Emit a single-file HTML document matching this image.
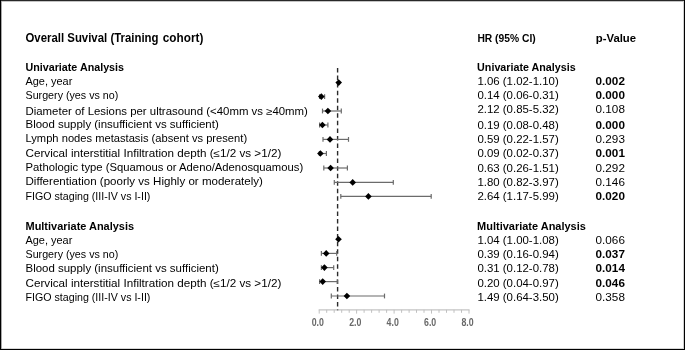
<!DOCTYPE html>
<html><head><meta charset="utf-8"><style>
html,body{margin:0;padding:0;background:#fff;}
body{width:685px;height:350px;overflow:hidden;}
svg{display:block;}
text{font-family:"Liberation Sans",Arial,sans-serif;font-size:10.2px;fill:#000;}
text.b{font-weight:bold;fill:#000;}
text.title{font-size:12px;}
text.tick{fill:#686868;font-size:10.0px;font-weight:bold;}
.ci{stroke:#6b6b6b;stroke-width:1.2;}
.ax{stroke:#c0c0c0;stroke-width:1;}
</style></head><body>
<svg width="685" height="350" viewBox="0 0 685 350">
<rect x="0" y="0" width="685" height="350" fill="#fff"/>
<line x1="318.7" y1="309.9" x2="469.5" y2="309.9" class="ax" style="stroke-width:1.1;stroke:#c4c4c4"/>
<line x1="319.2" y1="309.8" x2="319.2" y2="313.6" class="ax"/>
<line x1="326.7" y1="309.8" x2="326.7" y2="312.8" class="ax"/>
<line x1="334.2" y1="309.8" x2="334.2" y2="312.8" class="ax"/>
<line x1="341.7" y1="309.8" x2="341.7" y2="312.8" class="ax"/>
<line x1="349.2" y1="309.8" x2="349.2" y2="312.8" class="ax"/>
<line x1="356.6" y1="309.8" x2="356.6" y2="313.6" class="ax"/>
<line x1="364.1" y1="309.8" x2="364.1" y2="312.8" class="ax"/>
<line x1="371.6" y1="309.8" x2="371.6" y2="312.8" class="ax"/>
<line x1="379.1" y1="309.8" x2="379.1" y2="312.8" class="ax"/>
<line x1="386.6" y1="309.8" x2="386.6" y2="312.8" class="ax"/>
<line x1="394.1" y1="309.8" x2="394.1" y2="313.6" class="ax"/>
<line x1="401.6" y1="309.8" x2="401.6" y2="312.8" class="ax"/>
<line x1="409.1" y1="309.8" x2="409.1" y2="312.8" class="ax"/>
<line x1="416.5" y1="309.8" x2="416.5" y2="312.8" class="ax"/>
<line x1="424.0" y1="309.8" x2="424.0" y2="312.8" class="ax"/>
<line x1="431.5" y1="309.8" x2="431.5" y2="313.6" class="ax"/>
<line x1="439.0" y1="309.8" x2="439.0" y2="312.8" class="ax"/>
<line x1="446.5" y1="309.8" x2="446.5" y2="312.8" class="ax"/>
<line x1="454.0" y1="309.8" x2="454.0" y2="312.8" class="ax"/>
<line x1="461.5" y1="309.8" x2="461.5" y2="312.8" class="ax"/>
<line x1="469.0" y1="309.8" x2="469.0" y2="313.6" class="ax"/>
<text x="311.70" y="326" textLength="12.2" lengthAdjust="spacingAndGlyphs" class="tick">0.0</text>
<text x="349.14" y="326" textLength="12.2" lengthAdjust="spacingAndGlyphs" class="tick">2.0</text>
<text x="386.58" y="326" textLength="12.2" lengthAdjust="spacingAndGlyphs" class="tick">4.0</text>
<text x="424.02" y="326" textLength="12.2" lengthAdjust="spacingAndGlyphs" class="tick">6.0</text>
<text x="461.46" y="326" textLength="12.2" lengthAdjust="spacingAndGlyphs" class="tick">8.0</text>
<line x1="337.6" y1="68.0" x2="337.6" y2="310.3" stroke="#2a2a2a" stroke-width="1.4" stroke-dasharray="4.5 3.05"/>
<polygon points="335.4,82.6 338.7,79.3 342.0,82.6 338.7,85.9" fill="#000"/>
<line x1="319.6" y1="96.6" x2="324.6" y2="96.6" class="ci"/>
<line x1="319.6" y1="94.2" x2="319.6" y2="99.0" class="ci"/>
<line x1="324.6" y1="94.2" x2="324.6" y2="99.0" class="ci"/>
<polygon points="318.0,96.6 321.3,93.3 324.6,96.6 321.3,99.9" fill="#000"/>
<line x1="322.5" y1="111.0" x2="341.3" y2="111.0" class="ci"/>
<line x1="322.5" y1="108.6" x2="322.5" y2="113.4" class="ci"/>
<line x1="341.3" y1="108.6" x2="341.3" y2="113.4" class="ci"/>
<polygon points="324.6,111.0 327.9,107.7 331.2,111.0 327.9,114.3" fill="#000"/>
<line x1="319.6" y1="125.0" x2="327.9" y2="125.0" class="ci"/>
<line x1="319.6" y1="122.6" x2="319.6" y2="127.4" class="ci"/>
<line x1="327.9" y1="122.6" x2="327.9" y2="127.4" class="ci"/>
<polygon points="319.1,125.0 322.4,121.7 325.7,125.0 322.4,128.3" fill="#000"/>
<line x1="323.0" y1="139.4" x2="348.5" y2="139.4" class="ci"/>
<line x1="323.0" y1="137.0" x2="323.0" y2="141.8" class="ci"/>
<line x1="348.5" y1="137.0" x2="348.5" y2="141.8" class="ci"/>
<polygon points="326.7,139.4 330.0,136.1 333.3,139.4 330.0,142.7" fill="#000"/>
<line x1="319.4" y1="153.5" x2="326.4" y2="153.5" class="ci"/>
<line x1="319.4" y1="151.1" x2="319.4" y2="155.9" class="ci"/>
<line x1="326.4" y1="151.1" x2="326.4" y2="155.9" class="ci"/>
<polygon points="317.1,153.5 320.4,150.2 323.7,153.5 320.4,156.8" fill="#000"/>
<line x1="323.8" y1="168.0" x2="347.4" y2="168.0" class="ci"/>
<line x1="323.8" y1="165.6" x2="323.8" y2="170.4" class="ci"/>
<line x1="347.4" y1="165.6" x2="347.4" y2="170.4" class="ci"/>
<polygon points="327.3,168.0 330.6,164.7 333.9,168.0 330.6,171.3" fill="#000"/>
<line x1="334.3" y1="182.4" x2="393.3" y2="182.4" class="ci"/>
<line x1="334.3" y1="180.0" x2="334.3" y2="184.8" class="ci"/>
<line x1="393.3" y1="180.0" x2="393.3" y2="184.8" class="ci"/>
<polygon points="349.4,182.4 352.7,179.1 356.0,182.4 352.7,185.7" fill="#000"/>
<line x1="340.8" y1="196.4" x2="431.2" y2="196.4" class="ci"/>
<line x1="340.8" y1="194.0" x2="340.8" y2="198.8" class="ci"/>
<line x1="431.2" y1="194.0" x2="431.2" y2="198.8" class="ci"/>
<polygon points="365.1,196.4 368.4,193.1 371.7,196.4 368.4,199.7" fill="#000"/>
<polygon points="335.2,239.3 338.5,236.0 341.8,239.3 338.5,242.6" fill="#000"/>
<line x1="321.4" y1="253.4" x2="336.7" y2="253.4" class="ci"/>
<line x1="321.4" y1="251.0" x2="321.4" y2="255.8" class="ci"/>
<line x1="336.7" y1="251.0" x2="336.7" y2="255.8" class="ci"/>
<polygon points="322.9,253.4 326.2,250.1 329.5,253.4 326.2,256.7" fill="#000"/>
<line x1="321.4" y1="267.6" x2="333.7" y2="267.6" class="ci"/>
<line x1="321.4" y1="265.2" x2="321.4" y2="270.0" class="ci"/>
<line x1="333.7" y1="265.2" x2="333.7" y2="270.0" class="ci"/>
<polygon points="321.1,267.6 324.4,264.3 327.7,267.6 324.4,270.9" fill="#000"/>
<line x1="319.6" y1="281.6" x2="337.3" y2="281.6" class="ci"/>
<line x1="319.6" y1="279.2" x2="319.6" y2="284.0" class="ci"/>
<line x1="337.3" y1="279.2" x2="337.3" y2="284.0" class="ci"/>
<polygon points="319.4,281.6 322.7,278.3 326.0,281.6 322.7,284.9" fill="#000"/>
<line x1="331.3" y1="296.0" x2="384.5" y2="296.0" class="ci"/>
<line x1="331.3" y1="293.6" x2="331.3" y2="298.4" class="ci"/>
<line x1="384.5" y1="293.6" x2="384.5" y2="298.4" class="ci"/>
<polygon points="343.6,296.0 346.9,292.7 350.2,296.0 346.9,299.3" fill="#000"/>
<text x="25.50" y="42.00" textLength="133.00" lengthAdjust="spacingAndGlyphs" class="b title">Overall Suvival (Training</text>
<text x="162.80" y="42.00" textLength="40.50" lengthAdjust="spacingAndGlyphs" class="b title">cohort)</text>
<text x="477.40" y="42.00" textLength="58.30" lengthAdjust="spacingAndGlyphs" class="b">HR (95% CI)</text>
<text x="595.80" y="42.00" textLength="40.30" lengthAdjust="spacingAndGlyphs" class="b">p-Value</text>
<text x="25.50" y="71.00" textLength="98.50" lengthAdjust="spacingAndGlyphs" class="b">Univariate Analysis</text>
<text x="477.10" y="71.00" textLength="98.60" lengthAdjust="spacingAndGlyphs" class="b">Univariate Analysis</text>
<text x="25.50" y="230.00" textLength="108.60" lengthAdjust="spacingAndGlyphs" class="b">Multivariate Analysis</text>
<text x="477.10" y="230.00" textLength="108.80" lengthAdjust="spacingAndGlyphs" class="b">Multivariate Analysis</text>
<text x="25.50" y="85.00" textLength="46.80" lengthAdjust="spacingAndGlyphs">Age, year</text>
<text x="477.40" y="85.00" textLength="81.30" lengthAdjust="spacingAndGlyphs">1.06 (1.02-1.10)</text>
<text x="595.60" y="85.00" textLength="29.30" lengthAdjust="spacingAndGlyphs" class="b">0.002</text>
<text x="25.50" y="99.00" textLength="92.80" lengthAdjust="spacingAndGlyphs">Surgery (yes vs no)</text>
<text x="477.40" y="99.00" textLength="81.30" lengthAdjust="spacingAndGlyphs">0.14 (0.06-0.31)</text>
<text x="595.60" y="99.00" textLength="29.30" lengthAdjust="spacingAndGlyphs" class="b">0.000</text>
<text x="25.50" y="115.00" textLength="282.40" lengthAdjust="spacingAndGlyphs">Diameter of Lesions per ultrasound (&lt;40mm vs ≥40mm)</text>
<text x="477.40" y="113.00" textLength="81.30" lengthAdjust="spacingAndGlyphs">2.12 (0.85-5.32)</text>
<text x="595.60" y="113.00" textLength="29.30" lengthAdjust="spacingAndGlyphs">0.108</text>
<text x="25.50" y="128.00" textLength="193.20" lengthAdjust="spacingAndGlyphs">Blood supply (insufficient vs sufficient)</text>
<text x="477.40" y="129.00" textLength="81.30" lengthAdjust="spacingAndGlyphs">0.19 (0.08-0.48)</text>
<text x="595.60" y="129.00" textLength="29.30" lengthAdjust="spacingAndGlyphs" class="b">0.000</text>
<text x="25.50" y="142.00" textLength="221.60" lengthAdjust="spacingAndGlyphs">Lymph nodes metastasis (absent vs present)</text>
<text x="477.40" y="143.00" textLength="81.30" lengthAdjust="spacingAndGlyphs">0.59 (0.22-1.57)</text>
<text x="595.60" y="143.00" textLength="29.30" lengthAdjust="spacingAndGlyphs">0.293</text>
<text x="25.50" y="157.00" textLength="255.80" lengthAdjust="spacingAndGlyphs">Cervical interstitial Infiltration depth (≤1/2 vs &gt;1/2)</text>
<text x="477.40" y="157.00" textLength="81.30" lengthAdjust="spacingAndGlyphs">0.09 (0.02-0.37)</text>
<text x="595.60" y="157.00" textLength="29.30" lengthAdjust="spacingAndGlyphs" class="b">0.001</text>
<text x="25.50" y="171.00" textLength="277.70" lengthAdjust="spacingAndGlyphs">Pathologic type (Squamous or Adeno/Adenosquamous)</text>
<text x="477.40" y="172.00" textLength="81.30" lengthAdjust="spacingAndGlyphs">0.63 (0.26-1.51)</text>
<text x="595.60" y="172.00" textLength="29.30" lengthAdjust="spacingAndGlyphs">0.292</text>
<text x="25.50" y="185.00" textLength="237.40" lengthAdjust="spacingAndGlyphs">Differentiation (poorly vs Highly or moderately)</text>
<text x="477.40" y="186.00" textLength="81.30" lengthAdjust="spacingAndGlyphs">1.80 (0.82-3.97)</text>
<text x="595.60" y="186.00" textLength="29.30" lengthAdjust="spacingAndGlyphs">0.146</text>
<text x="25.50" y="200.00" textLength="124.90" lengthAdjust="spacingAndGlyphs">FIGO staging (III-IV vs I-II)</text>
<text x="477.40" y="200.00" textLength="81.30" lengthAdjust="spacingAndGlyphs">2.64 (1.17-5.99)</text>
<text x="595.60" y="200.00" textLength="29.30" lengthAdjust="spacingAndGlyphs" class="b">0.020</text>
<text x="25.50" y="244.00" textLength="46.80" lengthAdjust="spacingAndGlyphs">Age, year</text>
<text x="477.40" y="244.00" textLength="81.30" lengthAdjust="spacingAndGlyphs">1.04 (1.00-1.08)</text>
<text x="595.60" y="244.00" textLength="29.30" lengthAdjust="spacingAndGlyphs">0.066</text>
<text x="25.50" y="258.00" textLength="92.80" lengthAdjust="spacingAndGlyphs">Surgery (yes vs no)</text>
<text x="477.40" y="258.00" textLength="81.30" lengthAdjust="spacingAndGlyphs">0.39 (0.16-0.94)</text>
<text x="595.60" y="258.00" textLength="29.30" lengthAdjust="spacingAndGlyphs" class="b">0.037</text>
<text x="25.50" y="272.00" textLength="193.20" lengthAdjust="spacingAndGlyphs">Blood supply (insufficient vs sufficient)</text>
<text x="477.40" y="272.00" textLength="81.30" lengthAdjust="spacingAndGlyphs">0.31 (0.12-0.78)</text>
<text x="595.60" y="272.00" textLength="29.30" lengthAdjust="spacingAndGlyphs" class="b">0.014</text>
<text x="25.50" y="287.00" textLength="255.80" lengthAdjust="spacingAndGlyphs">Cervical interstitial Infiltration depth (≤1/2 vs &gt;1/2)</text>
<text x="477.40" y="287.00" textLength="81.30" lengthAdjust="spacingAndGlyphs">0.20 (0.04-0.97)</text>
<text x="595.60" y="287.00" textLength="29.30" lengthAdjust="spacingAndGlyphs" class="b">0.046</text>
<text x="25.50" y="301.00" textLength="124.90" lengthAdjust="spacingAndGlyphs">FIGO staging (III-IV vs I-II)</text>
<text x="477.40" y="301.00" textLength="81.30" lengthAdjust="spacingAndGlyphs">1.49 (0.64-3.50)</text>
<text x="595.60" y="301.00" textLength="29.30" lengthAdjust="spacingAndGlyphs">0.358</text>
<rect x="0.5" y="0.5" width="684" height="349" fill="none" stroke="#000" stroke-width="1"/>
<line x1="1" y1="0.5" x2="684" y2="0.5" stroke="#282828" stroke-width="1"/>
<line x1="1.5" y1="1" x2="1.5" y2="349" stroke="#a8a8a8" stroke-width="1"/>
<line x1="2" y1="1.5" x2="683" y2="1.5" stroke="#c4c4c4" stroke-width="1"/>
<line x1="683.5" y1="1" x2="683.5" y2="349" stroke="#d0d0d0" stroke-width="1"/>
<line x1="2" y1="348.5" x2="683" y2="348.5" stroke="#d8d8d8" stroke-width="1"/>
</svg>
</body></html>
